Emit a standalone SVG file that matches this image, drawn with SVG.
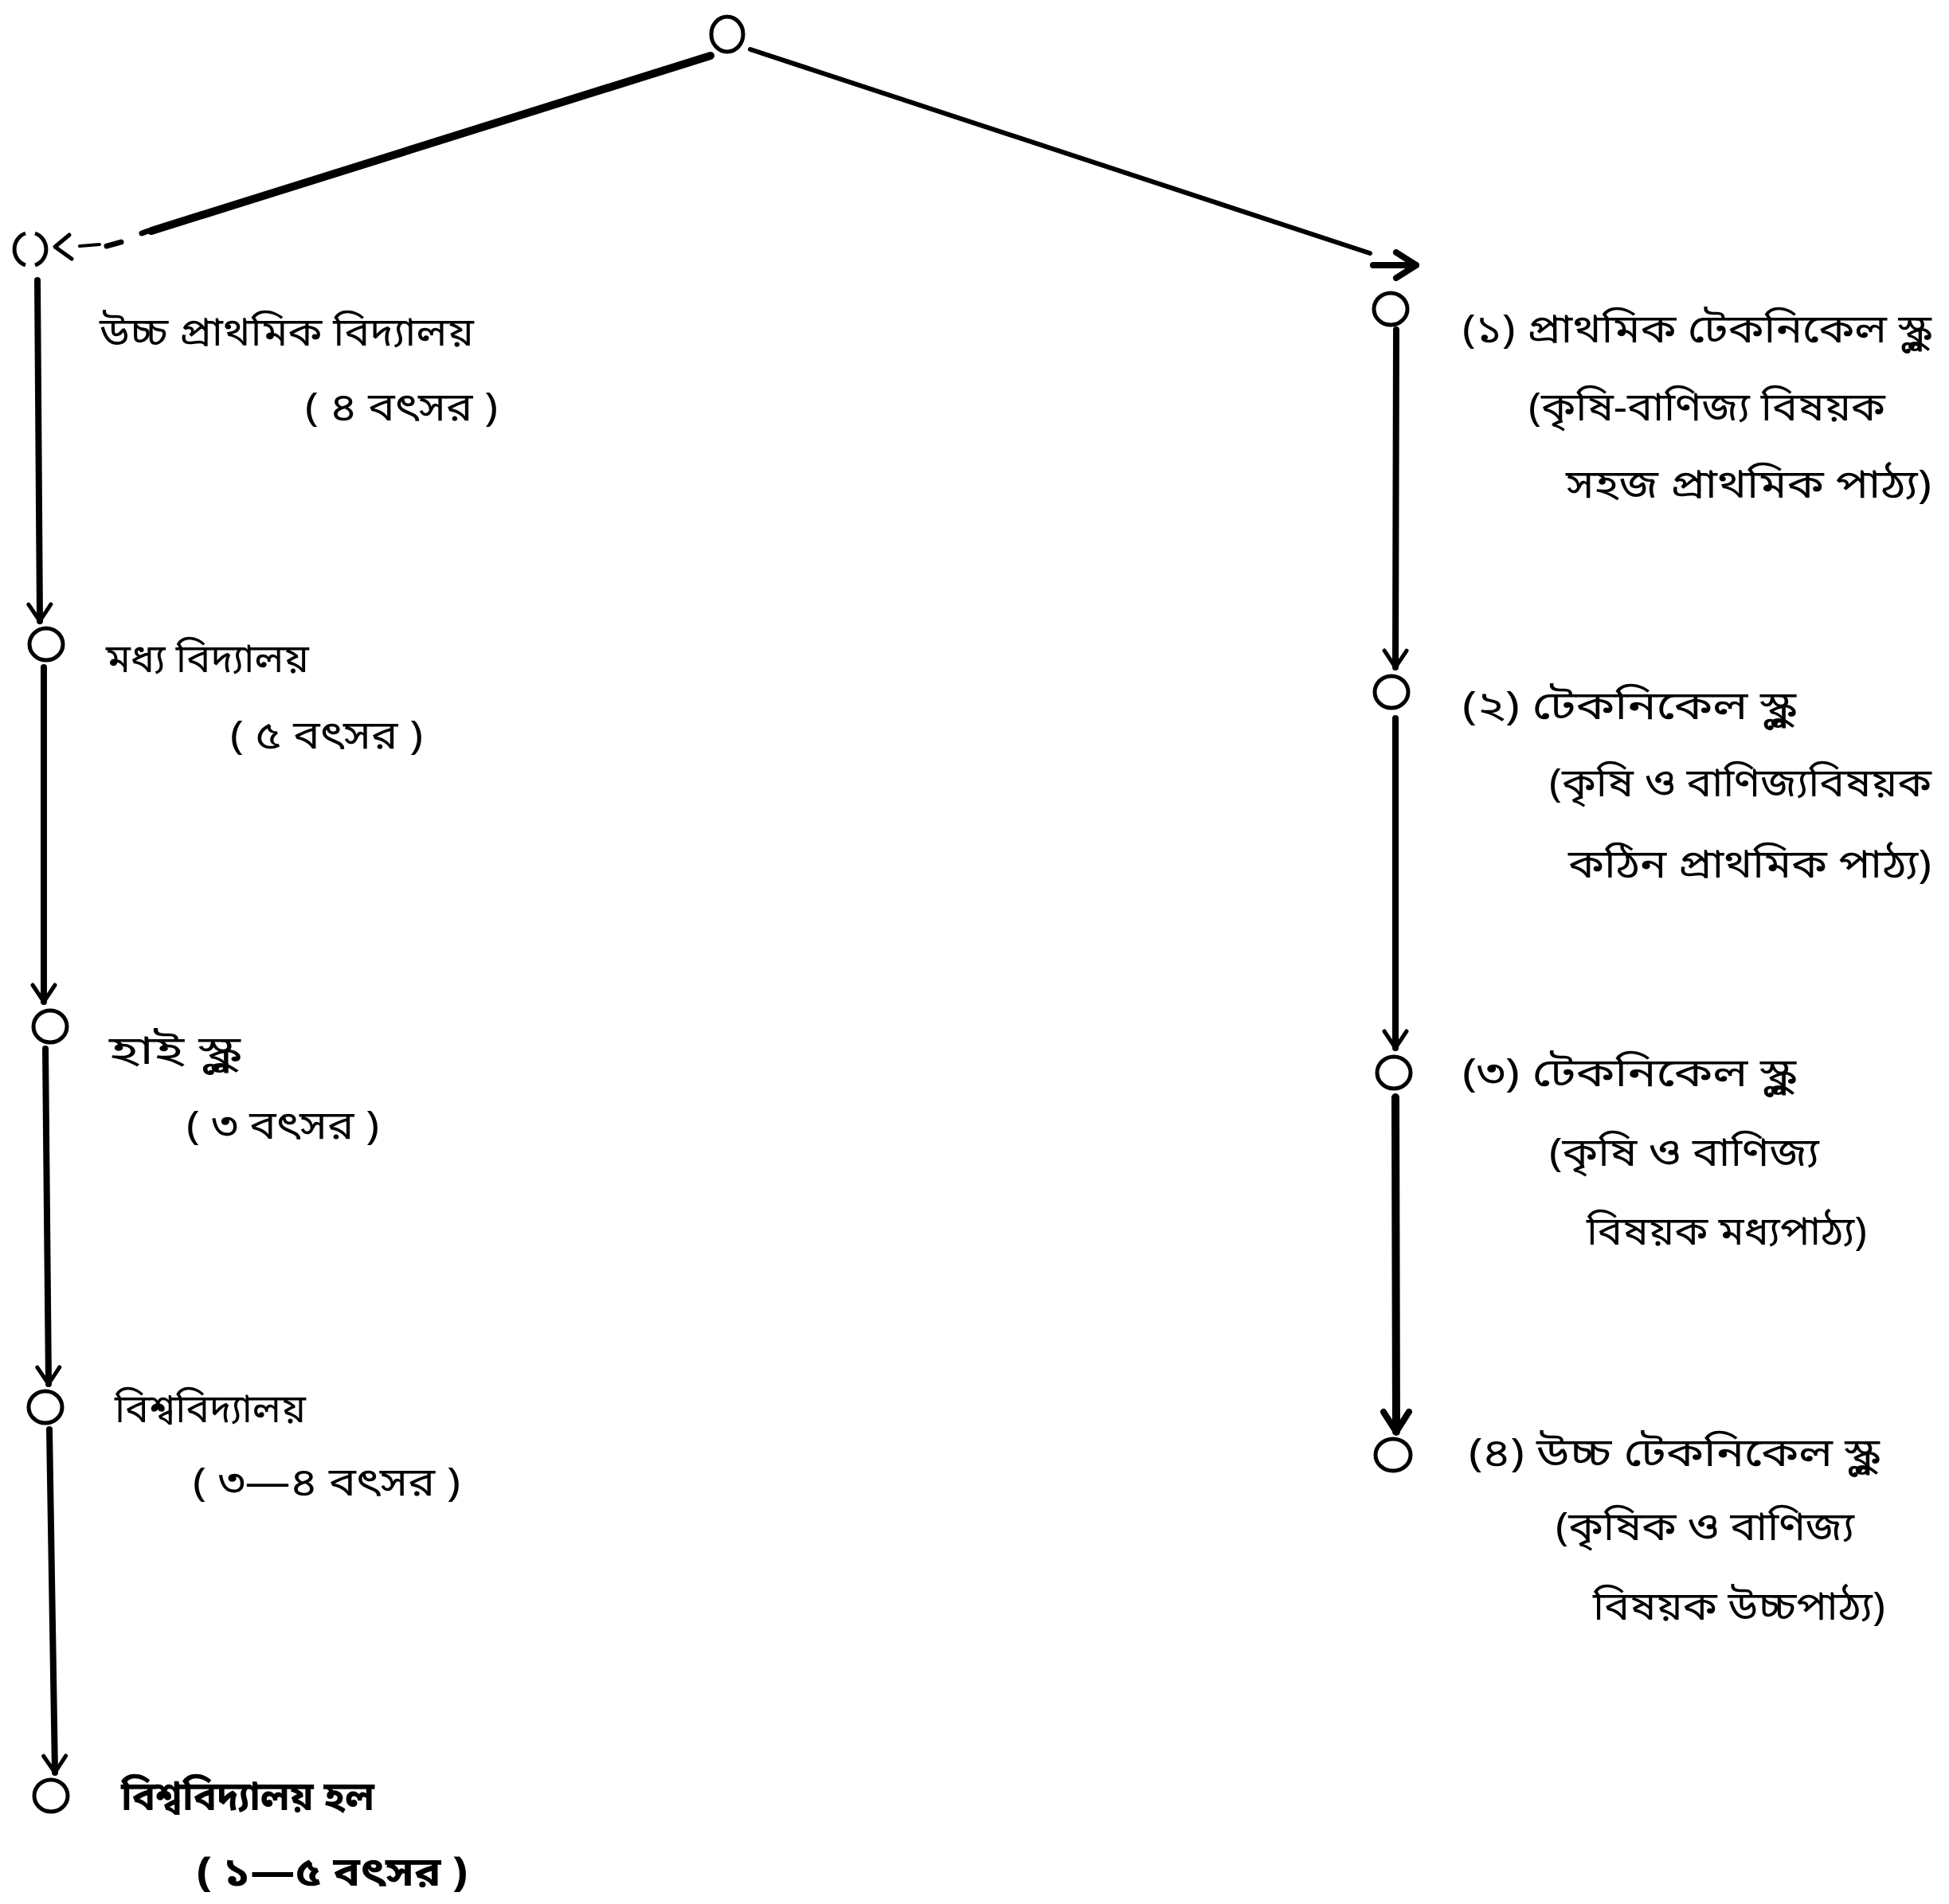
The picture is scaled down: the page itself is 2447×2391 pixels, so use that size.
<svg xmlns="http://www.w3.org/2000/svg" width="2447" height="2391" viewBox="0 0 2447 2391">
<defs>
<style>
.t{font-family:"Noto Sans Bengali","Noto Serif Bengali","Lohit Bengali","Noto Sans",sans-serif;font-size:50px;fill:#000}
.b{font-weight:bold}
.n{fill:none;stroke:#000;stroke-width:5}
.c{fill:none;stroke:#000;stroke-linecap:round;stroke-linejoin:round}
</style>
<marker id="ah" viewBox="0 0 30 34" refX="27" refY="17" markerWidth="30" markerHeight="34" markerUnits="userSpaceOnUse" orient="auto">
<path d="M6,3 L27,17 L6,31" fill="none" stroke="#000" stroke-width="5" stroke-linecap="round" stroke-linejoin="round"/>
</marker>
<marker id="ahb" viewBox="0 0 34 40" refX="31" refY="20" markerWidth="34" markerHeight="40" markerUnits="userSpaceOnUse" orient="auto">
<path d="M6,4 L31,20 L6,36" fill="none" stroke="#000" stroke-width="8" stroke-linecap="round" stroke-linejoin="round"/>
</marker>
</defs>
<rect width="2447" height="2391" fill="#fff"/>
<g id="connectors">
<path class="c" d="M892,70 L190,290" stroke-width="10"/>
<path class="c" d="M186,290 L178,293" stroke-width="7"/>
<path class="c" d="M152,304 L134,309" stroke-width="7"/>
<path class="c" d="M125,307 L100,309" stroke-width="4"/>
<path class="c" d="M87,295 L69,310 L90,325" stroke-width="5"/>
<path class="c" d="M942,62 L1720,318" stroke-width="6"/>
<path class="c" d="M1724,333 L1778,333" stroke-width="8" marker-end="url(#ahb)"/>
<path class="c" d="M47,352 L50,780" stroke-width="8" marker-end="url(#ah)"/>
<path class="c" d="M55,838 L55,1258" stroke-width="8" marker-end="url(#ah)"/>
<path class="c" d="M57,1317 L61,1738" stroke-width="8" marker-end="url(#ah)"/>
<path class="c" d="M62,1795 L69,2226" stroke-width="8" marker-end="url(#ah)"/>
<path class="c" d="M1753,414 L1752,838" stroke-width="8" marker-end="url(#ah)"/>
<path class="c" d="M1752,902 L1752,1316" stroke-width="8" marker-end="url(#ah)"/>
<path class="c" d="M1752,1378 L1753,1798" stroke-width="10" marker-end="url(#ahb)"/>
</g>
<g id="root"><ellipse class="n" cx="913" cy="43" rx="20" ry="22"/></g>
<g id="l1"><path class="n" d="M32,293 A20,21 0 0 0 32,333"/><path class="n" d="M44,293 A20,21 0 0 1 44,333"/>
<text class="t" x="125" y="434" textLength="470" lengthAdjust="spacingAndGlyphs">উচ্চ প্রাথমিক বিদ্যালয়</text>
<text class="t" x="383" y="528" textLength="242" lengthAdjust="spacingAndGlyphs">( ৪ বৎসর )</text></g>
<g id="l2"><ellipse class="n" cx="58" cy="809" rx="21" ry="20"/>
<text class="t" x="133" y="844" textLength="255" lengthAdjust="spacingAndGlyphs">মধ্য বিদ্যালয়</text>
<text class="t" x="289" y="940" textLength="242" lengthAdjust="spacingAndGlyphs">( ৫ বৎসর )</text></g>
<g id="l3"><ellipse class="n" cx="63" cy="1289" rx="21" ry="20"/>
<text class="t" x="137" y="1336" textLength="165" lengthAdjust="spacingAndGlyphs">হাই স্কুল</text>
<text class="t" x="234" y="1430" textLength="242" lengthAdjust="spacingAndGlyphs">( ৩ বৎসর )</text></g>
<g id="l4"><ellipse class="n" cx="57" cy="1767" rx="21" ry="20"/>
<text class="t" x="144" y="1786" textLength="240" lengthAdjust="spacingAndGlyphs">বিশ্ববিদ্যালয়</text>
<text class="t" x="242" y="1878" textLength="336" lengthAdjust="spacingAndGlyphs">( ৩—৪ বৎসর )</text></g>
<g id="l5"><ellipse class="n" cx="64" cy="2255" rx="21" ry="20"/>
<text class="t b" x="152" y="2273" textLength="318" lengthAdjust="spacingAndGlyphs">বিশ্ববিদ্যালয় হল</text>
<text class="t b" x="247" y="2368" textLength="340" lengthAdjust="spacingAndGlyphs">( ১—৫ বৎসর )</text></g>
<g id="r1"><ellipse class="n" cx="1746" cy="388" rx="21" ry="20"/>
<text class="t" x="1836" y="430" textLength="589" lengthAdjust="spacingAndGlyphs">(১) প্রাথমিক টেকনিকেল স্কুল</text>
<text class="t" x="1919" y="528" textLength="448" lengthAdjust="spacingAndGlyphs">(কৃষি-বাণিজ্য বিষয়ক</text>
<text class="t" x="1966" y="625" textLength="459" lengthAdjust="spacingAndGlyphs">সহজ প্রাথমিক পাঠ্য)</text></g>
<g id="r2"><ellipse class="n" cx="1747" cy="869" rx="21" ry="20"/>
<text class="t" x="1836" y="903" textLength="419" lengthAdjust="spacingAndGlyphs">(২)  টেকনিকেল স্কুল</text>
<text class="t" x="1945" y="1000" textLength="480" lengthAdjust="spacingAndGlyphs">(কৃষি ও বাণিজ্যবিষয়ক</text>
<text class="t" x="1969" y="1102" textLength="456" lengthAdjust="spacingAndGlyphs">কঠিন প্রাথমিক পাঠ্য)</text></g>
<g id="r3"><ellipse class="n" cx="1750" cy="1347" rx="21" ry="20"/>
<text class="t" x="1836" y="1364" textLength="419" lengthAdjust="spacingAndGlyphs">(৩)  টেকনিকেল স্কুল</text>
<text class="t" x="1945" y="1464" textLength="339" lengthAdjust="spacingAndGlyphs">(কৃষি ও বাণিজ্য</text>
<text class="t" x="1992" y="1563" textLength="352" lengthAdjust="spacingAndGlyphs">বিষয়ক মধ্যপাঠ্য)</text></g>
<g id="r4"><ellipse class="n" cx="1749" cy="1827" rx="22" ry="20"/>
<text class="t" x="1844" y="1841" textLength="516" lengthAdjust="spacingAndGlyphs">(৪)  উচ্চ টেকনিকেল স্কুল</text>
<text class="t" x="1953" y="1934" textLength="375" lengthAdjust="spacingAndGlyphs">(কৃষিক ও বাণিজ্য</text>
<text class="t" x="2000" y="2034" textLength="367" lengthAdjust="spacingAndGlyphs">বিষয়ক উচ্চপাঠ্য)</text></g>
</svg>
